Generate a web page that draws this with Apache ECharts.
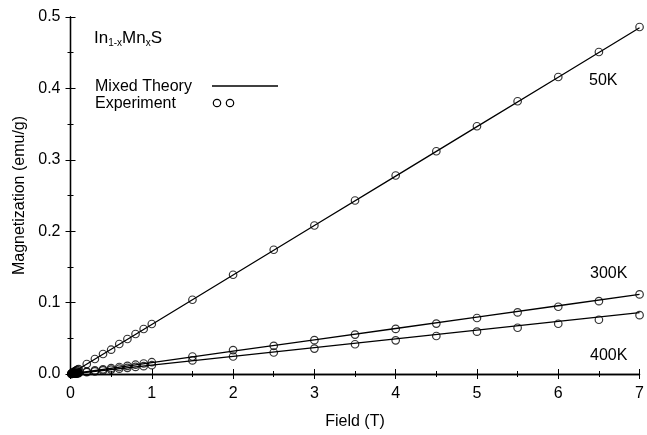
<!DOCTYPE html>
<html><head><meta charset="utf-8">
<script src="https://cdn.jsdelivr.net/npm/echarts@6/dist/echarts.min.js"></script>
<style>html,body{margin:0;padding:0;background:#fff}#c{width:647px;height:435px}</style>
</head><body><div id="c"></div>
<script>
// Experimental field values (T)
const fieldExp = [0.01, 0.02, 0.03, 0.04, 0.05, 0.06, 0.07, 0.08, 0.09, 0.1, 0.2, 0.3, 0.4, 0.5, 0.6, 0.7, 0.8, 0.9, 1.0, 1.5, 2, 2.5, 3, 3.5, 4, 4.5, 5, 5.5, 6, 6.5, 7];
// Experimental magnetization (emu/g)
const exp50K  = [0.0007, 0.0014, 0.0021, 0.0028, 0.0035, 0.0042, 0.0049, 0.0056, 0.0063, 0.007, 0.014, 0.021, 0.028, 0.034, 0.042, 0.049, 0.056, 0.063, 0.070, 0.104, 0.139, 0.174, 0.208, 0.243, 0.278, 0.312, 0.347, 0.382, 0.416, 0.451, 0.486];
const exp300K = [0.0002, 0.0004, 0.0005, 0.0007, 0.0008, 0.001, 0.0012, 0.0013, 0.0015, 0.0017, 0.0033, 0.005, 0.0066, 0.0082, 0.0098, 0.0114, 0.013, 0.0147, 0.0165, 0.0245, 0.0335, 0.0395, 0.0474, 0.0552, 0.0631, 0.0706, 0.0784, 0.0863, 0.0942, 0.102, 0.1115];
const exp400K = [0.0001, 0.0003, 0.0004, 0.0005, 0.0006, 0.0008, 0.0009, 0.001, 0.0011, 0.0012, 0.0025, 0.0037, 0.005, 0.0062, 0.0074, 0.0086, 0.0099, 0.011, 0.0123, 0.019, 0.0245, 0.0301, 0.0356, 0.0417, 0.0472, 0.0532, 0.0593, 0.0648, 0.0704, 0.076, 0.0824];
// Mixed theory curves
const fieldTh = [0, 1, 2, 3, 4, 5, 6, 7];
const th50K  = [0, 0.0693, 0.1386, 0.2079, 0.2771, 0.3464, 0.4157, 0.485];
const th300K = [0, 0.0159, 0.0319, 0.0478, 0.0637, 0.0796, 0.0956, 0.1115];
const th400K = [0, 0.0123, 0.0246, 0.0369, 0.0491, 0.0614, 0.0737, 0.086];
const xTicks = [0, 1, 2, 3, 4, 5, 6, 7];
const yTicks = [0.0, 0.1, 0.2, 0.3, 0.4, 0.5];

const pair = (xs, ys) => xs.map((x, i) => [x, ys[i]]);
const FONT = 'Liberation Sans, Arial, sans-serif';
const FS = 16;
const chart = echarts.init(document.getElementById('c'), null, {renderer: 'canvas'});

const lineSeries = (d) => ({type: 'line', data: pair(fieldTh, d), showSymbol: false, symbol: 'none',
  lineStyle: {color: '#000', width: 1.3}, z: 3, animation: false});
const expSeries = (d) => ({type: 'scatter', data: pair(fieldExp, d), symbol: 'circle', symbolSize: 7.5,
  itemStyle: {color: 'rgba(255,255,255,0)', borderColor: '#000', borderWidth: 1.2}, z: 4, animation: false});

const axisCommon = {
  axisLine: {show: true, lineStyle: {color: '#000', width: 1.3}},
  axisTick: {show: true, inside: true, length: 5, lineStyle: {color: '#000'}},
  minorTick: {show: true, splitNumber: 2, length: 3, lineStyle: {color: '#000'}},
  splitLine: {show: false}
};
const txt = (s, x, y, align) => ({type: 'text', x: x, y: y, style: {text: s, fontFamily: FONT, fontSize: FS, fill: '#000',
  textAlign: align || 'left', textVerticalAlign: 'middle'}});

chart.setOption({
  animation: false,
  backgroundColor: '#fff',
  grid: {left: 70.5, right: 4, top: 17, bottom: 57.5},
  xAxis: [
    Object.assign({type: 'value', min: xTicks[0], max: xTicks[xTicks.length - 1], interval: 1, position: 'bottom',
      name: 'Field (T)', nameLocation: 'middle', nameGap: 40,
      nameTextStyle: {fontFamily: FONT, fontSize: FS, color: '#000'},
      axisLabel: {margin: 12, fontFamily: FONT, fontSize: FS, color: '#000', formatter: v => String(v)}}, axisCommon),
    Object.assign({type: 'value', min: 0, max: 7, interval: 1, position: 'top', axisLabel: {show: false}}, axisCommon)
  ],
  yAxis: [
    Object.assign({type: 'value', min: yTicks[0], max: yTicks[yTicks.length - 1], interval: 0.1, position: 'left',
      name: 'Magnetization (emu/g)', nameLocation: 'middle', nameGap: 42, nameRotate: 90,
      nameTextStyle: {fontFamily: FONT, fontSize: FS, color: '#000'},
      axisLabel: {margin: 10, fontFamily: FONT, fontSize: FS, color: '#000', formatter: v => v.toFixed(1)}}, axisCommon),
    Object.assign({type: 'value', min: 0, max: 0.5, interval: 0.1, position: 'right', axisLabel: {show: false}}, axisCommon)
  ],
  series: [lineSeries(th50K), lineSeries(th300K), lineSeries(th400K), expSeries(exp50K), expSeries(exp300K), expSeries(exp400K)],
  graphic: [
    {type: 'text', x: 94, y: 38, style: {
      text: '{n|In}{s|1-x}{n|Mn}{s|x}{n|S}', textVerticalAlign: 'middle',
      rich: {n: {fontFamily: FONT, fontSize: 17, lineHeight: 20, fill: '#000', verticalAlign: 'middle'},
             s: {fontFamily: FONT, fontSize: 10, lineHeight: 10, fill: '#000', verticalAlign: 'bottom'}}}},
    txt('Mixed Theory', 95, 87),
    txt('Experiment', 95, 104),
    {type: 'line', shape: {x1: 212, y1: 86, x2: 278, y2: 86}, style: {stroke: '#000', lineWidth: 1.3}},
    {type: 'circle', shape: {cx: 217, cy: 103, r: 3.7}, style: {fill: 'none', stroke: '#000', lineWidth: 1.2}},
    {type: 'circle', shape: {cx: 230, cy: 103, r: 3.7}, style: {fill: 'none', stroke: '#000', lineWidth: 1.2}},
    txt('50K', 589, 81),
    txt('300K', 590, 274),
    txt('400K', 590, 356)
  ]
});
</script></body></html>
